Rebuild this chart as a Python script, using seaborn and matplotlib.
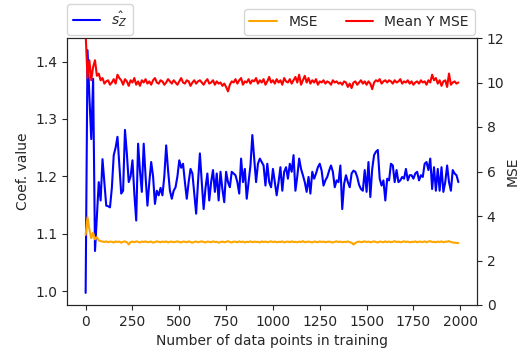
"""
Coefficient estimate and MSE vs. training size (twin axes)
"""
import numpy as np
import matplotlib
matplotlib.use("Agg")
import matplotlib.pyplot as plt
import seaborn as sns

STEP = 10  # one point every 10 training samples

# coefficient estimate s_Z (left axis)
coef_vals = [
    0.997, 1.42, 1.34, 1.265, 1.37, 1.07, 1.13, 1.19, 1.158, 1.23,
    1.19, 1.149, 1.148, 1.146, 1.18, 1.237, 1.25, 1.269, 1.22, 1.17,
    1.175, 1.281, 1.24, 1.19, 1.20, 1.228, 1.17, 1.123, 1.257, 1.21,
    1.173, 1.257, 1.20, 1.149, 1.19, 1.225, 1.20, 1.152, 1.175, 1.167,
    1.18, 1.167, 1.20, 1.254, 1.211, 1.175, 1.161, 1.175, 1.181, 1.20,
    1.228, 1.215, 1.222, 1.19, 1.161, 1.19, 1.213, 1.205, 1.17, 1.135,
    1.19, 1.240, 1.19, 1.143, 1.18, 1.205, 1.158, 1.19, 1.211, 1.173,
    1.205, 1.158, 1.208, 1.178, 1.155, 1.208, 1.19, 1.181, 1.208, 1.205,
    1.202, 1.19, 1.17, 1.231, 1.19, 1.213, 1.161, 1.19, 1.219, 1.272,
    1.23, 1.19, 1.222, 1.231, 1.225, 1.219, 1.184, 1.222, 1.19, 1.181,
    1.213, 1.19, 1.167, 1.19, 1.216, 1.175, 1.208, 1.216, 1.196, 1.222,
    1.208, 1.237, 1.175, 1.20, 1.231, 1.213, 1.202, 1.19, 1.173, 1.199,
    1.17, 1.208, 1.196, 1.205, 1.216, 1.222, 1.21, 1.184, 1.193, 1.199,
    1.21, 1.219, 1.208, 1.181, 1.193, 1.19, 1.219, 1.143, 1.187, 1.202,
    1.19, 1.181, 1.205, 1.21, 1.208, 1.199, 1.185, 1.178, 1.175, 1.211,
    1.173, 1.225, 1.164, 1.213, 1.237, 1.243, 1.246, 1.196, 1.184, 1.193,
    1.158, 1.196, 1.193, 1.222, 1.219, 1.19, 1.211, 1.19, 1.193, 1.199,
    1.196, 1.213, 1.193, 1.202, 1.202, 1.196, 1.205, 1.208, 1.193, 1.202,
    1.199, 1.222, 1.225, 1.211, 1.231, 1.178, 1.216, 1.175, 1.213, 1.175,
    1.216, 1.173, 1.19, 1.219, 1.19, 1.175, 1.211, 1.205, 1.202, 1.19,
]

# model MSE (right axis)
mse_vals = [
    3.15, 3.95, 3.4, 3.0, 3.25, 2.95, 3.05, 2.9, 2.87, 2.85,
    2.83, 2.86, 2.82, 2.85, 2.84, 2.81, 2.86, 2.83, 2.85, 2.8,
    2.84, 2.86, 2.82, 2.72, 2.83, 2.85, 2.82, 2.86, 2.84, 2.81,
    2.85, 2.83, 2.86, 2.82, 2.84, 2.85, 2.8, 2.83, 2.86, 2.84,
    2.82, 2.85, 2.83, 2.86, 2.81, 2.84, 2.85, 2.82, 2.84, 2.86,
    2.83, 2.81, 2.85, 2.84, 2.82, 2.86, 2.83, 2.8, 2.84, 2.85,
    2.82, 2.84, 2.86, 2.83, 2.81, 2.85, 2.84, 2.82, 2.86, 2.83,
    2.84, 2.8, 2.83, 2.85, 2.82, 2.84, 2.87, 2.83, 2.81, 2.85,
    2.84, 2.82, 2.86, 2.83, 2.85, 2.81, 2.84, 2.83, 2.86, 2.82,
    2.85, 2.83, 2.84, 2.81, 2.86, 2.83, 2.85, 2.82, 2.84, 2.86,
    2.83, 2.85, 2.82, 2.84, 2.83, 2.86, 2.81, 2.84, 2.85, 2.82,
    2.86, 2.83, 2.84, 2.82, 2.85, 2.83, 2.87, 2.82, 2.84, 2.85,
    2.83, 2.81, 2.85, 2.84, 2.82, 2.86, 2.83, 2.85, 2.82, 2.84,
    2.85, 2.83, 2.81, 2.84, 2.86, 2.83, 2.85, 2.82, 2.84, 2.83,
    2.86, 2.82, 2.8, 2.72, 2.79, 2.83, 2.85, 2.82, 2.84, 2.86,
    2.83, 2.85, 2.82, 2.84, 2.86, 2.83, 2.81, 2.85, 2.84, 2.82,
    2.86, 2.83, 2.85, 2.82, 2.84, 2.87, 2.83, 2.85, 2.82, 2.84,
    2.86, 2.83, 2.85, 2.82, 2.84, 2.83, 2.86, 2.82, 2.85, 2.84,
    2.83, 2.86, 2.82, 2.85, 2.87, 2.83, 2.84, 2.82, 2.85, 2.83,
    2.86, 2.82, 2.84, 2.85, 2.87, 2.83, 2.81, 2.8, 2.79, 2.78,
]

# MSE of predicting the mean of Y (right axis)
mean_y_mse_vals = [
    12.2, 10.2, 11.0, 10.1, 10.7, 11.0, 10.3, 10.4, 10.1, 10.2,
    9.95, 10.05, 10.1, 9.9, 10.0, 10.15, 9.95, 10.35, 10.2, 10.1,
    9.9, 10.15, 10.05, 9.85, 10.1, 10.0, 10.2, 9.9, 10.05, 9.85,
    10.1, 10.0, 10.15, 9.95, 10.05, 9.9, 10.1, 10.2, 10.0, 9.95,
    10.1, 10.05, 9.9, 10.0, 10.15, 10.05, 9.95, 10.1, 10.0, 9.9,
    10.05, 10.2, 10.0, 9.95, 10.1, 10.05, 9.85, 10.0, 10.1, 9.95,
    10.05, 10.1, 10.0, 9.9, 10.05, 10.15, 9.95, 10.0, 10.1, 9.9,
    10.05, 9.95, 10.0, 9.85, 9.95, 9.8, 9.6, 9.9, 10.05, 10.0,
    10.15, 9.95, 10.1, 10.2, 9.9, 10.05, 10.0, 10.15, 9.95, 10.1,
    10.05, 10.2, 9.95, 10.1, 10.0, 10.15, 9.9, 10.05, 10.25, 10.0,
    10.1, 9.95, 10.15, 10.0, 10.1, 9.9, 10.2, 10.05, 10.0, 10.15,
    9.95, 10.1, 10.25, 10.0, 10.35, 9.9, 10.1, 10.3, 10.0, 10.2,
    9.95, 10.1, 10.0, 10.15, 9.9, 10.05, 10.0, 10.1, 9.95, 10.05,
    10.0, 9.9, 10.1, 10.0, 10.05, 9.95, 10.0, 9.9, 10.05, 10.0,
    9.8, 9.95, 9.75, 10.0, 10.05, 9.9, 10.0, 10.1, 9.95, 10.05,
    9.9, 10.05, 9.95, 9.7, 10.0, 10.1, 10.05, 10.15, 9.95, 10.05,
    10.1, 10.0, 10.1, 10.05, 9.95, 10.1, 10.0, 10.05, 10.15, 9.95,
    10.05, 10.0, 10.1, 9.95, 10.05, 9.9, 10.0, 10.05, 9.95, 10.1,
    10.0, 10.05, 9.9, 10.1, 10.0, 10.35, 10.1, 10.2, 9.95, 10.1,
    9.85, 10.05, 10.1, 9.8, 10.4, 9.9, 10.0, 10.05, 9.95, 10.0,
]

sns.set_style("ticks", {"xtick.major.size": 3.5, "ytick.major.size": 3.5})
plt.rcParams["font.family"] = ["DejaVu Sans"]
plt.rcParams["font.size"] = 10
plt.rcParams["axes.labelsize"] = 10
plt.rcParams["xtick.labelsize"] = 10
plt.rcParams["ytick.labelsize"] = 10
plt.rcParams["legend.fontsize"] = 10


def xs(vals):
    return np.arange(len(vals)) * STEP


fig = plt.figure(figsize=(5.21, 3.55), dpi=100)
ax = fig.add_axes([67 / 521, 1 - 305 / 355, 410 / 521, 267 / 355])
ax2 = ax.twinx()

sns.lineplot(x=xs(coef_vals), y=coef_vals, ax=ax, color="blue", linewidth=1.5,
             label=r"$\hat{s_Z}$", sort=False)
sns.lineplot(x=xs(mse_vals), y=mse_vals, ax=ax2, color="orange", linewidth=1.5,
             label="MSE", sort=False)
sns.lineplot(x=xs(mean_y_mse_vals), y=mean_y_mse_vals, ax=ax2, color="red",
             linewidth=1.5, label="Mean Y MSE", sort=False)

ax.set_xlabel("Number of data points in training")
ax.set_ylabel("Coef. value")
ax2.set_ylabel("MSE", labelpad=1)
ax2.set_ylim(0, 12)
ax.set_xticks(range(0, 2001, 250))

ax.legend(loc="lower left", bbox_to_anchor=(0, 1.013), borderaxespad=0)
ax2.legend(loc="lower right", bbox_to_anchor=(0.994, 1.013), borderaxespad=0, ncol=2)

fig.savefig("out.png", dpi=100)
